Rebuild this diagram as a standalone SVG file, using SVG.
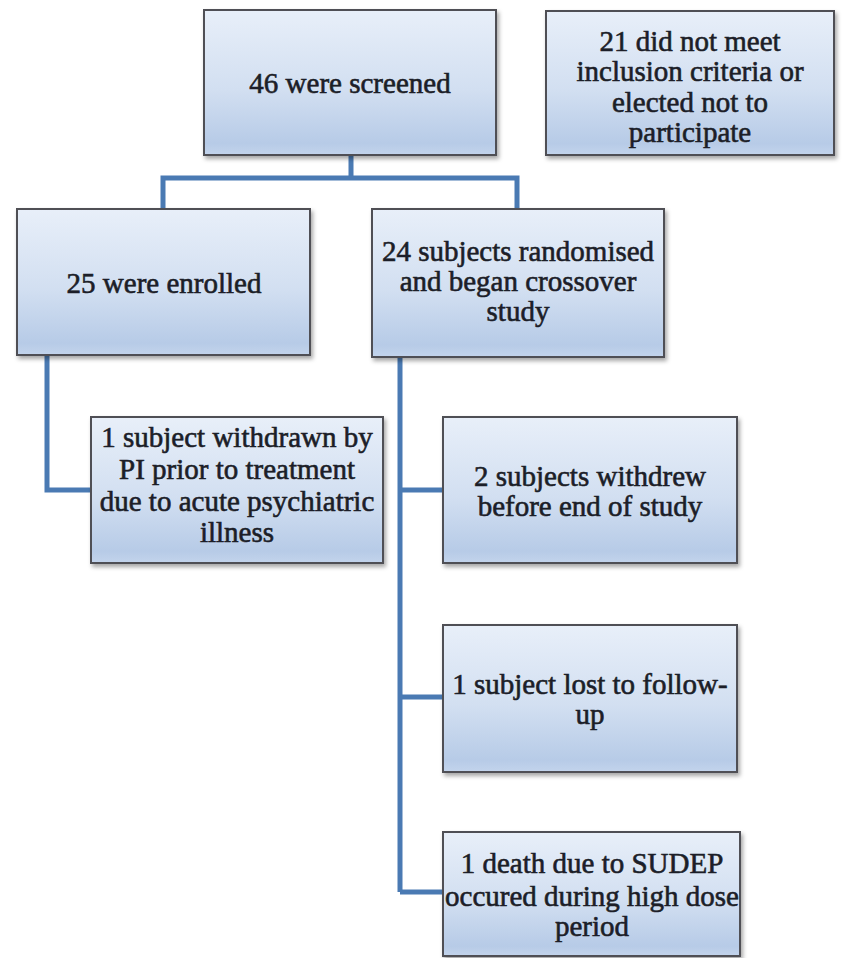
<svg xmlns="http://www.w3.org/2000/svg" width="844" height="958" viewBox="0 0 844 958">
<defs>
<linearGradient id="boxfill" x1="0" y1="0" x2="0" y2="1">
<stop offset="0" stop-color="#e8eff9"/>
<stop offset="0.55" stop-color="#d2dff1"/>
<stop offset="0.92" stop-color="#b7cbe7"/>
<stop offset="1" stop-color="#c3d4ec"/>
</linearGradient>
<filter id="shadow" x="-5%" y="-5%" width="115%" height="120%">
<feDropShadow dx="2" dy="3" stdDeviation="2" flood-color="#000" flood-opacity="0.35"/>
</filter>
</defs>
<style>
.box{fill:url(#boxfill);stroke:#4f4f55;stroke-width:2;filter:url(#shadow)}
.lbl{font-family:"Liberation Serif","Times New Roman",serif;font-size:29px;fill:#1c1e28;stroke:#1c1e28;stroke-width:0.6;text-anchor:middle}
.conn{fill:none;stroke:#4a7ab3;stroke-width:5;stroke-linejoin:miter}
</style>
<rect width="844" height="958" fill="#ffffff"/>
<g id="connectors">
<path class="conn" d="M351,155 V178 M163,213 V178 H517 V213"/>
<path class="conn" d="M47,355 V490 H91"/>
<path class="conn" d="M400,357 V892 M400,490 H443 M400,697 H443 M400,892 H443"/>
</g>
<g id="n46">
<rect class="box" x="204" y="10" width="292" height="145"/>
<text class="lbl" x="350" y="93">46 were screened</text>
</g>
<g id="n21">
<rect class="box" x="546" y="11" width="288" height="144"/>
<text class="lbl" x="690" y="51">21 did not meet</text>
<text class="lbl" x="690" y="81">inclusion criteria or</text>
<text class="lbl" x="690" y="112">elected not to</text>
<text class="lbl" x="690" y="142">participate</text>
</g>
<g id="n25">
<rect class="box" x="17" y="209" width="293" height="146"/>
<text class="lbl" x="164" y="293">25 were enrolled</text>
</g>
<g id="n24">
<rect class="box" x="372" y="209" width="292" height="148"/>
<text class="lbl" x="518" y="261">24 subjects randomised</text>
<text class="lbl" x="518" y="291">and began crossover</text>
<text class="lbl" x="518" y="321">study</text>
</g>
<g id="nwithdrawn">
<rect class="box" x="91" y="417" width="292" height="146"/>
<text class="lbl" x="237" y="447">1 subject withdrawn by</text>
<text class="lbl" x="237" y="479">PI prior to treatment</text>
<text class="lbl" x="237" y="511">due to acute psychiatric</text>
<text class="lbl" x="237" y="542">illness</text>
</g>
<g id="nwithdrew">
<rect class="box" x="443" y="417" width="294" height="146"/>
<text class="lbl" x="590" y="486">2 subjects withdrew</text>
<text class="lbl" x="590" y="516">before end of study</text>
</g>
<g id="nlost">
<rect class="box" x="443" y="625" width="294" height="147"/>
<text class="lbl" x="590" y="694">1 subject lost to follow-</text>
<text class="lbl" x="590" y="724">up</text>
</g>
<g id="ndeath">
<rect class="box" x="443" y="832" width="297" height="124"/>
<text class="lbl" x="592" y="873">1 death due to SUDEP</text>
<text class="lbl" x="592" y="906">occured during high dose</text>
<text class="lbl" x="592" y="936">period</text>
</g>
</svg>
